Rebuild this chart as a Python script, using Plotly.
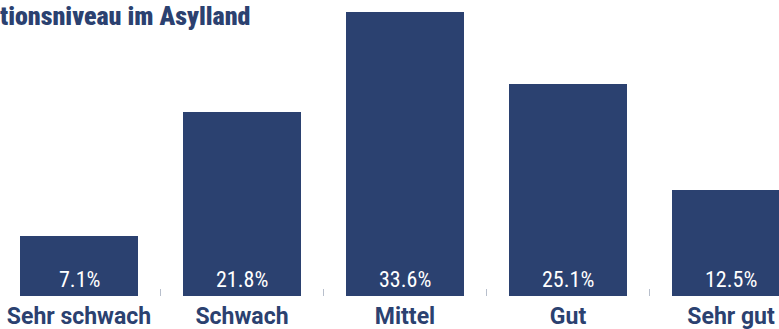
import plotly.graph_objects as go

categories = ["Sehr schwach", "Schwach", "Mittel", "Gut", "Sehr gut"]
values = [7.1, 21.8, 33.6, 25.1, 12.5]
value_labels = ["7.1%", "21.8%", "33.6%", "25.1%", "12.5%"]
title_text = "tionsniveau im Asylland"

NAVY = "#2b4170"
W, H = 779, 329
top, bottom = 12, 296

fig = go.Figure(go.Bar(
    x=categories,
    y=values,
    marker=dict(color=NAVY, line=dict(width=0)),
    width=118 / 163,
    hoverinfo="skip",
))

for cat, lab in zip(categories, value_labels):
    fig.add_annotation(
        x=cat, y=0, xref="x", yref="y", text=lab, showarrow=False,
        xanchor="center", yanchor="bottom", yshift=2,
        font=dict(family="Roboto Condensed, Liberation Sans Narrow, Roboto, sans-serif", size=22, color="white"),
    )

fig.update_layout(
    width=W, height=H,
    margin=dict(l=0, r=0, t=top, b=H - bottom),
    plot_bgcolor="white", paper_bgcolor="white",
    showlegend=False,
    bargap=0,
)
fig.update_xaxes(
    type="category",
    range=[-79 / 163, (W - 79) / 163],
    tickson="boundaries",
    ticks="inside", ticklen=7, tickcolor="#b8bfcc", tickwidth=1,
    ticklabelstandoff=4,
    showline=False, showgrid=False, zeroline=False,
    tickfont=dict(family="Roboto, Liberation Sans, sans-serif", size=23, color=NAVY, weight="bold"),
    automargin=False,
)
fig.update_yaxes(range=[0, 33.6], visible=False, automargin=False)

fig.add_annotation(
    text=title_text, xref="paper", yref="paper",
    x=0, y=1 + (top - 0) / (bottom - top), xanchor="left", yanchor="top",
    xshift=-2, yshift=1, showarrow=False,
    font=dict(family="Roboto Condensed, Liberation Sans Narrow, Roboto, sans-serif", size=26, color=NAVY, weight=900),
)

fig.write_html("out.html")
